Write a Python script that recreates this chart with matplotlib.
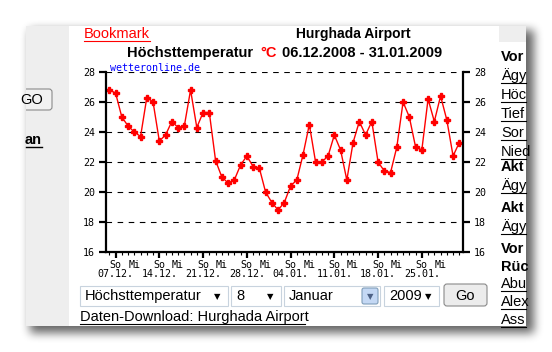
import numpy as np
import matplotlib.pyplot as plt
from matplotlib.patches import Rectangle, FancyBboxPatch

# Hoechsttemperatur Hurghada Airport, 06.12.2008 - 31.01.2009 (one value per day)
tmax = [26.8, 26.6, 25.0, 24.4, 24.0, 23.7, 26.3, 26.0, 23.4, 23.8,
        24.7, 24.3, 24.4, 26.8, 24.3, 25.3, 25.3, 22.1, 21.0, 20.6,
        20.8, 21.8, 22.4, 21.7, 21.6, 20.0, 19.3, 18.8, 19.3, 20.4,
        20.8, 22.5, 24.5, 22.0, 22.0, 22.4, 23.8, 22.8, 20.8, 23.3,
        24.7, 23.8, 24.7, 22.0, 21.4, 21.3, 23.0, 26.0, 25.0, 23.0,
        22.8, 26.2, 24.7, 26.4, 24.8, 22.4, 23.3]
week_labels = ['07.12.', '14.12.', '21.12.', '28.12.',
               '04.01.', '11.01.', '18.01.', '25.01.']
first_sunday = 1      # 06.12.2008 was a Saturday
y_ticks = [16, 18, 20, 22, 24, 26, 28]
right_links = [('Vor', True, 57), ('Ägy', False, 76), ('Höc', False, 95),
               ('Tief', False, 114), ('Sor', False, 133), ('Nied', False, 152),
               ('Akt', True, 167), ('Ägy', False, 186), ('Akt', True, 208),
               ('Ägy', False, 227), ('Vor', True, 249), ('Rüc', True, 267),
               ('Abu', False, 284), ('Alex', False, 302), ('Ass', False, 320)]

W, H = 552, 352
mono = 'DejaVu Sans Mono'
sans = 'Liberation Sans'

fig = plt.figure(figsize=(W / 100, H / 100), dpi=100)
bg = fig.add_axes([0, 0, 1, 1])
bg.set_xlim(0, W)
bg.set_ylim(H, 0)
bg.axis('off')

# window drop shadow
mask = np.zeros((H, W))
mask[30:333, 30:534] = 1.0
k = np.ones(9) / 9
for _ in range(3):
    mask = np.apply_along_axis(lambda r: np.convolve(r, k, mode='same'), 1, mask)
    mask = np.apply_along_axis(lambda c: np.convolve(c, k, mode='same'), 0, mask)
shadow = np.zeros((H, W, 4))
shadow[..., 3] = mask * 0.6
bg.imshow(shadow, extent=[0, W, H, 0], zorder=0)

win = Rectangle((26, 26), 500, 300, facecolor='white', edgecolor='none', zorder=1)
bg.add_patch(win)
bg.add_patch(Rectangle((26, 26), 43, 300, facecolor='#eeeeee', edgecolor='none', zorder=2))
bg.add_patch(Rectangle((499, 26), 27, 16, facecolor='#eeeeee', edgecolor='none', zorder=2))
clip = Rectangle((26, 26), 500, 300, transform=bg.transData)

# left panel remnants
btn = FancyBboxPatch((18, 89), 34, 21, boxstyle='round,pad=0,rounding_size=3',
                     facecolor='#f2f2f2', edgecolor='#8a8a8a', lw=0.8, zorder=3)
bg.add_patch(btn)
btn.set_clip_path(clip)
t = bg.text(43, 100, 'GO', ha='right', va='center', fontsize=10.5, family=sans, zorder=4)
t.set_clip_path(clip)
t = bg.text(42, 140, 'an', ha='right', va='center', fontsize=10.5, family=sans,
            fontweight='bold', zorder=4)
bg.plot([26, 42], [147, 147], color='black', lw=1, zorder=4)

# header
bg.text(84, 34, 'Bookmark', color='#ff0000', fontsize=10.5, family=sans, va='center', zorder=4)
bg.plot([84, 150], [41, 41], color='#ff0000', lw=0.8, zorder=4)
bg.text(353, 34, 'Hurghada Airport', ha='center', va='center', fontsize=10,
        family=sans, fontweight='bold', zorder=4)
bg.text(253, 53, 'Höchsttemperatur', ha='right', va='center', fontsize=10.5,
        family=sans, fontweight='bold', zorder=4)
bg.text(269, 53, '°C', ha='center', va='center', fontsize=10.5, color='#ff0000',
        family=sans, fontweight='bold', zorder=4)
bg.text(282, 53, '06.12.2008 - 31.01.2009', ha='left', va='center', fontsize=10.5,
        family=sans, fontweight='bold', zorder=4)

# chart
days = np.arange(len(tmax))
ax = fig.add_axes([106 / W, 1 - 252 / H, 356.7 / W, 180 / H])
ax.set_zorder(5)
ax.patch.set_alpha(0)
ax.plot(days, tmax, color='#ff0000', lw=1, marker='P', ms=4.3, mec='#ff0000', mfc='#ff0000')
ax.set_xlim(-0.53, 56.54)
ax.set_ylim(16, 28)
for y in y_ticks[1:]:
    ax.axhline(y, color='black', lw=0.8, ls=(0, (5, 5)), zorder=0)
ax.spines['top'].set_visible(False)
for s in ['left', 'right', 'bottom']:
    ax.spines[s].set_linewidth(1.6)
ax.set_yticks(y_ticks)
ax.tick_params(axis='y', which='both', left=True, right=True, labelleft=True,
               labelright=True, length=5, width=1.6, pad=3, labelsize=7.2)
for lab in ax.get_yticklabels():
    lab.set_family(mono)
sundays = np.arange(first_sunday, len(tmax), 7)
wednesdays = sundays + 3
ax.set_xticks(sundays)
ax.set_xticks(days, minor=True)
ax.set_xticklabels([])
ax.tick_params(axis='x', which='major', length=4.5, width=1.6)
ax.tick_params(axis='x', which='minor', length=2.5, width=0.8)
tr = ax.get_xaxis_transform()
for d, lab in zip(sundays, week_labels):
    ax.text(d, -0.072, 'So', transform=tr, ha='center', va='center', fontsize=7.2, family=mono)
    ax.text(d, -0.122, lab, transform=tr, ha='center', va='center', fontsize=7.2, family=mono)
for d in wednesdays:
    ax.text(d, -0.072, 'Mi', transform=tr, ha='center', va='center', fontsize=7.2, family=mono)
ax.text(0.01, 1.02, 'wetteronline.de', transform=ax.transAxes, ha='left', va='center',
        fontsize=7.2, family=mono, color='#0000ff')

# form controls
selects = [(80, 148, 'Höchsttemperatur'), (231, 50, '8'), (284, 96, 'Januar'), (384, 55, '2009')]
for x0, w, label in selects:
    bg.add_patch(Rectangle((x0, 286), w, 20, facecolor='white', edgecolor='#c8d3de', lw=0.8, zorder=3))
    bg.text(x0 + 5, 296, label, ha='left', va='center', fontsize=10.5, family=sans, zorder=4)
    if label == 'Januar':
        bg.add_patch(FancyBboxPatch((x0 + w - 18, 288), 16, 16, boxstyle='round,pad=0,rounding_size=2',
                                    facecolor='#c4d8f4', edgecolor='#7f9db9', lw=0.8, zorder=4))
        bg.text(x0 + w - 10, 296.5, '▼', ha='center', va='center', fontsize=6,
                family='DejaVu Sans', color='#4d6185', zorder=5)
    else:
        bg.text(x0 + w - 11, 296.5, '▼', ha='center', va='center', fontsize=6,
                family='DejaVu Sans', zorder=5)
bg.add_patch(FancyBboxPatch((444, 284), 43, 22, boxstyle='round,pad=0,rounding_size=3',
                            facecolor='#ececec', edgecolor='#8a8a8a', lw=0.8, zorder=3))
bg.text(465.5, 295.5, 'Go', ha='center', va='center', fontsize=10.5, family=sans, zorder=4)
bg.text(80, 317, 'Daten-Download: Hurghada Airport', ha='left', va='center',
        fontsize=10.5, family=sans, zorder=4)
bg.plot([80, 305], [324, 324], color='black', lw=0.8, zorder=4)

# right column (cut off by the window edge)
for txt, bold, y in right_links:
    t = bg.text(501, y, txt, ha='left', va='center', fontsize=10.5, family=sans,
                fontweight='bold' if bold else 'normal', zorder=4)
    t.set_clip_path(clip)
    if not bold:
        bg.plot([501, 526], [y + 7, y + 7], color='black', lw=0.8, zorder=4)

fig.savefig('out.png', dpi=100)
